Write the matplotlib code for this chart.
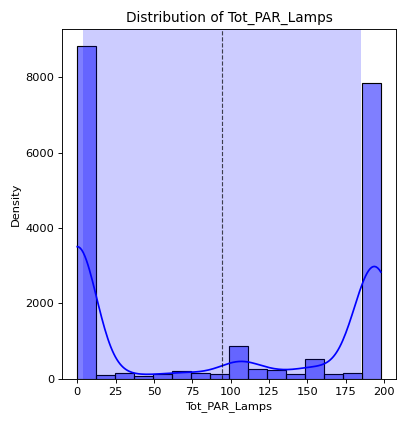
import numpy as np
import matplotlib
matplotlib.use("Agg")
import matplotlib.pyplot as plt

# Tot_PAR_Lamps values, grouped: representative level -> number of rows
lamp_levels = [0, 18.6, 30.9, 43.3, 55.7, 68.1, 80.4, 92.8, 105.2, 117.6,
               129.9, 142.3, 154.7, 167.1, 179.4, 190, 198]
lamp_counts = [8840, 90, 150, 65, 130, 200, 150, 120, 870, 255,
               220, 125, 530, 125, 160, 3940, 3900]
n_bins = 16
bin_range = (0, 198)

levels = np.array(lamp_levels, dtype=float)
counts = np.array(lamp_counts, dtype=float)
n = counts.sum()

mean = np.sum(levels * counts) / n
std = np.sqrt(np.sum(counts * (levels - mean) ** 2) / n)

fig = plt.figure(figsize=(398 / 82, 422 / 82), dpi=82)
ax = fig.add_axes([0.156, 0.1026, 0.839, 0.8287])

edges = np.linspace(bin_range[0], bin_range[1], n_bins + 1)
binwidth = edges[1] - edges[0]
ax.hist(levels, bins=edges, weights=counts, facecolor=(0, 0, 1, 0.5),
        edgecolor="black", linewidth=1)

# gaussian kde, scott bandwidth, clipped to the data range, scaled to counts
h = std * n ** (-1 / 5)
grid = np.linspace(levels.min(), levels.max(), 200)
dens = np.zeros_like(grid)
for lv, c in zip(levels, counts):
    dens += c * np.exp(-0.5 * ((grid - lv) / h) ** 2)
dens /= n * h * np.sqrt(2 * np.pi)
ax.plot(grid, dens * n * binwidth, color="blue", linewidth=1.5)

ax.axvline(mean, color="black", linestyle="--", linewidth=1, alpha=0.7)
ax.axvspan(mean - std, mean + std, color="blue", alpha=0.2, linewidth=0)

ax.set_xlim(-9.9, 207.9)
ax.set_ylim(0, 8840 * 1.05)
ax.set_xticks(np.arange(0, 201, 25))
ax.set_yticks(np.arange(0, 8001, 2000))
ax.set_title("Distribution of Tot_PAR_Lamps")
ax.set_xlabel("Tot_PAR_Lamps")
ax.set_ylabel("Density")

fig.savefig("out.png", dpi=82)
